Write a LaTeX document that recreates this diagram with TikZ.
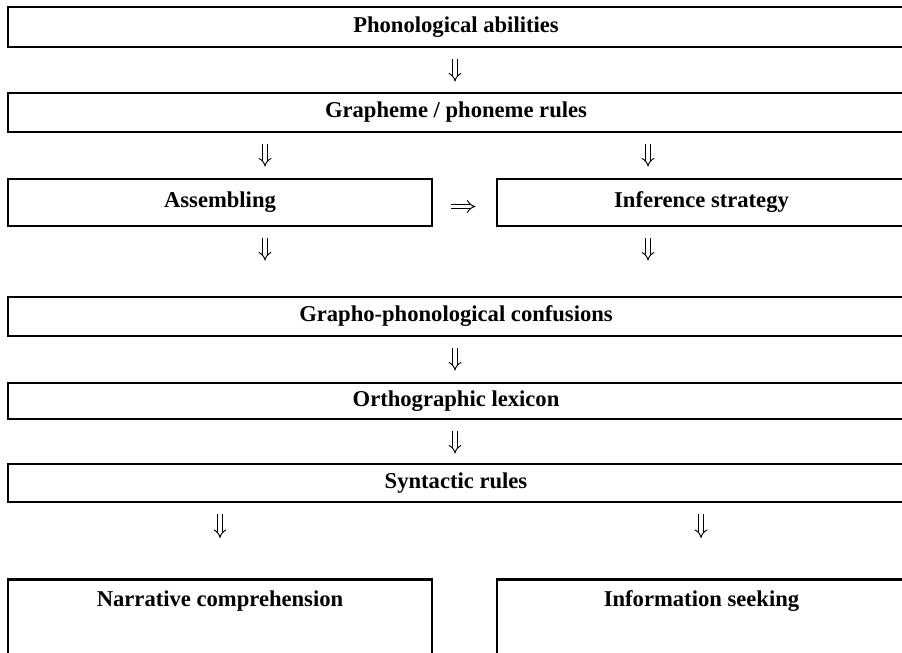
\documentclass[tikz,border=0pt]{standalone}
\usepackage{fontspec}
\setmainfont{Liberation Serif}
\usetikzlibrary{arrows.meta,positioning,calc}
\tikzset{
  stage/.style={
    rectangle, draw=black, line width=2.5pt,
    inner sep=0pt, align=center,
    font=\fontsize{19.3}{23}\selectfont\bfseries
  },
  wide/.style ={stage, minimum width=26.88cm, minimum height=1.17cm},
  left/.style ={stage, minimum width=12.72cm, minimum height=1.41cm},
  right/.style={stage, minimum width=12.27cm, minimum height=1.41cm},
  goal/.style ={stage, anchor=north, text height=0.81cm, text depth=1.89cm},
  flow/.style={double, double distance=3pt, line width=0.8pt,
    -{Implies[scale=1.35]}, shorten <=0.33cm}
}

\begin{document}
\begin{tikzpicture}[x=0.03cm,y=-0.03cm]
  \useasboundingbox (0,0) rectangle (902,653);
  \clip (0,0) rectangle (902,653);

  % arrow columns
  \coordinate (cM) at (455,0);
  \coordinate (cL) at (265,0);
  \coordinate (cR) at (648,0);
  \coordinate (cLL) at (220,0);
  \coordinate (cRR) at (701,0);

  % stages
  \node[wide, minimum height=1.2cm] (pa) at (456,27) {Phonological abilities};
  \node[wide] (gp) at (456,112.5) {Grapheme / phoneme rules};
  \node[left] (asm) at (220,202.5) {Assembling};
  \node[right] (inf) at (701.5,202.5) {Inference strategy};
  \node[wide] (gpc) at (456,316.5) {Grapho-phonological confusions};
  \node[wide, minimum height=1.08cm] (ol) at (456,401) {Orthographic lexicon};
  \node[wide, minimum height=1.14cm] (sr) at (456,483) {Syntactic rules};
  \node[goal, minimum width=12.72cm] (nar) at (220,578) {Narrative comprehension};
  \node[goal, minimum width=12.27cm] (info) at (701.5,578) {Information seeking};

  % flow
  \draw[flow, shorten >=0.3cm] (pa.south -| cM) -- (gp.north -| cM);
  \draw[flow, shorten >=0.33cm] (gp.south -| cL) -- (asm.north -| cL);
  \draw[flow, shorten >=0.33cm] (gp.south -| cR) -- (inf.north -| cR);
  \draw[flow, shorten <=0.54cm, shorten >=0.6cm]
    ([yshift=-0.12cm]asm.east) -- ([yshift=-0.12cm]inf.west);
  \draw[flow, shorten >=1.05cm] (asm.south -| cL) -- (gpc.north -| cL);
  \draw[flow, shorten >=1.05cm] (inf.south -| cR) -- (gpc.north -| cR);
  \draw[flow, shorten >=0.33cm] (gpc.south -| cM) -- (ol.north -| cM);
  \draw[flow, shorten >=0.27cm] (ol.south -| cM) -- (sr.north -| cM);
  \draw[flow, shorten >=1.2cm] (sr.south -| cLL) -- (nar.north -| cLL);
  \draw[flow, shorten >=1.2cm] (sr.south -| cRR) -- (info.north -| cRR);
\end{tikzpicture}
\end{document}
